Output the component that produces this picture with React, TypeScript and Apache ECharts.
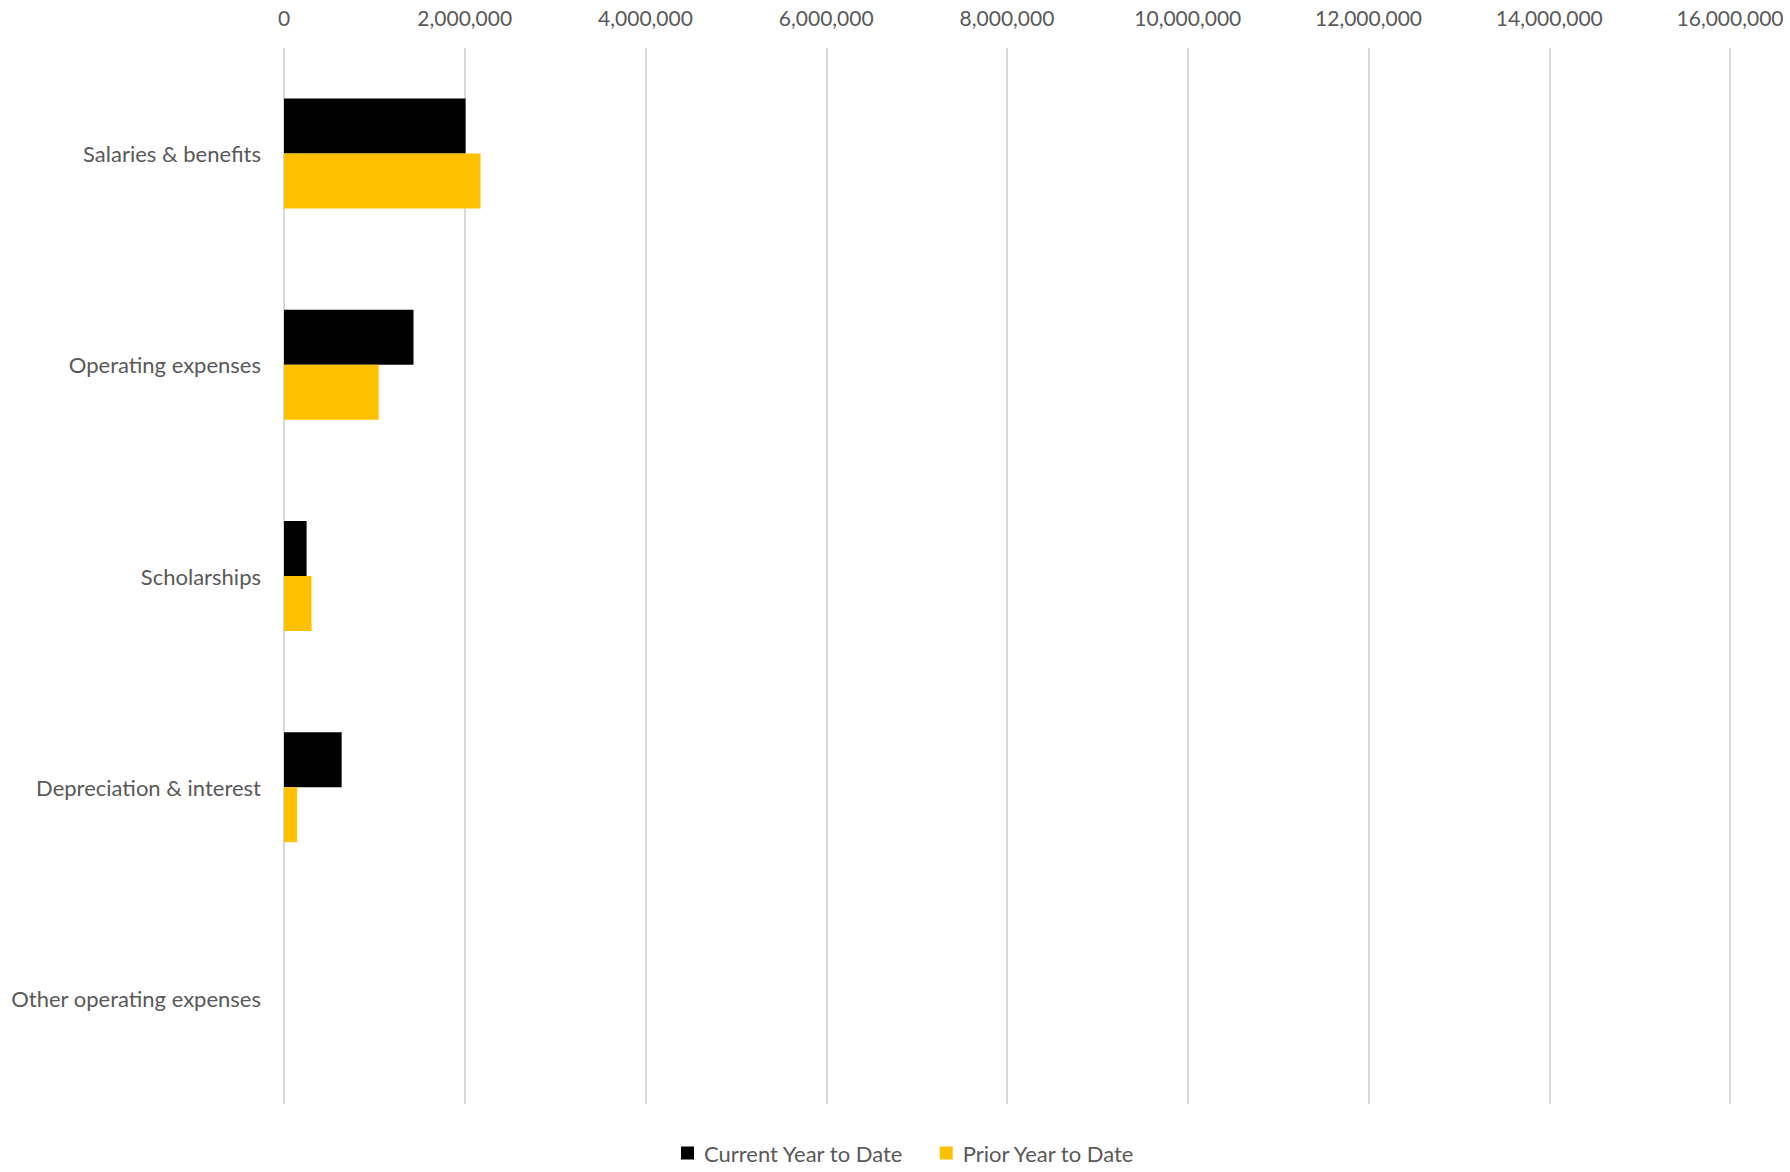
import React, { useEffect, useRef } from "react";
import * as echarts from "echarts";

const categories = [
  "Salaries & benefits",
  "Operating expenses",
  "Scholarships",
  "Depreciation & interest",
  "Other operating expenses",
];
const currentYearToDate = [2009000, 1433000, 250000, 638000, 0];
const priorYearToDate = [2175000, 1047000, 305000, 145000, 0];
const seriesNames = ["Current Year to Date", "Prior Year to Date"];
const axisMin = 0;
const axisMax = 16000000;
const axisInterval = 2000000;

const FONT = "Lato, 'Open Sans', sans-serif";
const TEXT_COLOR = "#595959";

export default function App() {
  const ref = useRef<HTMLDivElement>(null);
  useEffect(() => {
    if (!ref.current) return;
    const chart = echarts.init(ref.current, undefined, { renderer: "svg" });
    chart.setOption({
      animation: false,
      backgroundColor: "#ffffff",
      grid: { left: 284, right: 60, top: 48, bottom: 68, containLabel: false },
      legend: {
        data: seriesNames,
        bottom: 3,
        left: 676,
        itemWidth: 13,
        itemHeight: 13,
        itemGap: 36,
        icon: "rect",
        textStyle: { fontFamily: FONT, fontSize: 22, color: TEXT_COLOR, padding: [0, 0, 0, 5] },
      },
      xAxis: {
        type: "value",
        position: "top",
        min: axisMin,
        max: axisMax,
        interval: axisInterval,
        axisLine: { show: false },
        axisTick: { show: false },
        axisLabel: {
          fontFamily: FONT,
          fontSize: 21,
          color: TEXT_COLOR,
          margin: 20,
          formatter: (v: number) => v.toLocaleString("en-US"),
        },
        splitLine: { show: true, lineStyle: { color: "#d9d9d9", width: 2 } },
      },
      yAxis: {
        type: "category",
        data: categories,
        inverse: true,
        axisLine: { show: false },
        axisTick: { show: false },
        axisLabel: {
          fontFamily: FONT,
          fontSize: 22,
          color: TEXT_COLOR,
          margin: 23,
          padding: [0, 0, 8, 0],
        },
      },
      series: [
        {
          name: seriesNames[0],
          type: "bar",
          data: currentYearToDate,
          barWidth: 55,
          barGap: "0%",
          itemStyle: { color: "#000000" },
        },
        {
          name: seriesNames[1],
          type: "bar",
          data: priorYearToDate,
          barWidth: 55,
          barGap: "0%",
          itemStyle: { color: "#FFC000" },
        },
      ],
    });
    return () => chart.dispose();
  }, []);
  return (
    <div
      ref={ref}
      style={{ position: "fixed", left: 0, top: 0, width: 1790, height: 1172, background: "#fff" }}
    />
  );
}
